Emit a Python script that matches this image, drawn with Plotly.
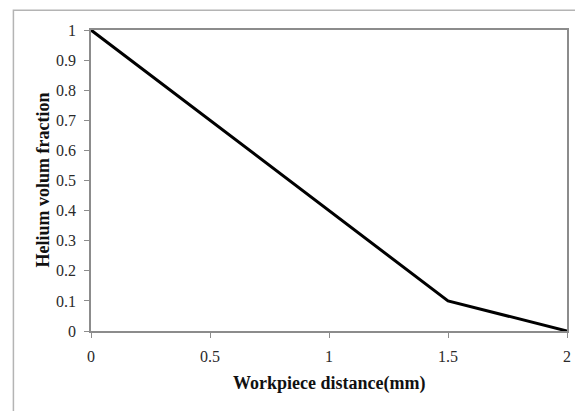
import plotly.graph_objects as go

distance_mm = [0, 0.5, 1, 1.5, 2]
helium_fraction = [1.0, 0.7, 0.4, 0.1, 0.0]
x_ticks = [0, 0.5, 1, 1.5, 2]
y_ticks = [0, 0.1, 0.2, 0.3, 0.4, 0.5, 0.6, 0.7, 0.8, 0.9, 1]

fig = go.Figure()
fig.add_trace(go.Scatter(
    x=distance_mm, y=helium_fraction, mode="lines",
    line=dict(color="black", width=3), cliponaxis=False, showlegend=False,
))

axis_common = dict(
    showgrid=False, zeroline=False, showline=True, linecolor="#8c8c8c", linewidth=1.5,
    mirror=True, ticks="outside", ticklen=5, tickcolor="#8c8c8c", tickwidth=1,
    ticklabelstandoff=5,
    tickfont=dict(family="Liberation Serif", size=16, color="#2a2a2a"),
)
fig.update_xaxes(range=[0, 2], tickvals=x_ticks, ticktext=[str(v) for v in x_ticks], **axis_common)
fig.update_yaxes(range=[0, 1], tickvals=y_ticks, ticktext=[f"{v:g}" for v in y_ticks], **axis_common)

fig.add_shape(type="rect", xref="paper", yref="paper",
              x0=-0.163, x1=1.3, y0=-0.5, y1=1.066,
              line=dict(color="#b4b4b4", width=1.5), layer="below")

fig.add_annotation(text="<b>Workpiece distance(mm)</b>", xref="paper", yref="paper",
                   x=0.5, y=0, yshift=-52, showarrow=False, yanchor="middle",
                   font=dict(family="Liberation Serif", size=18, color="#111111"))
fig.add_annotation(text="<b>Helium volum fraction</b>", xref="paper", yref="paper",
                   x=0, y=0.5, xshift=-49, showarrow=False, textangle=-90, xanchor="center",
                   font=dict(family="Liberation Serif", size=18, color="#111111"))

fig.update_layout(
    width=575, height=403,
    margin=dict(l=83, r=13, t=22, b=80),
    paper_bgcolor="white", plot_bgcolor="white",
)
fig.write_html("out.html")
